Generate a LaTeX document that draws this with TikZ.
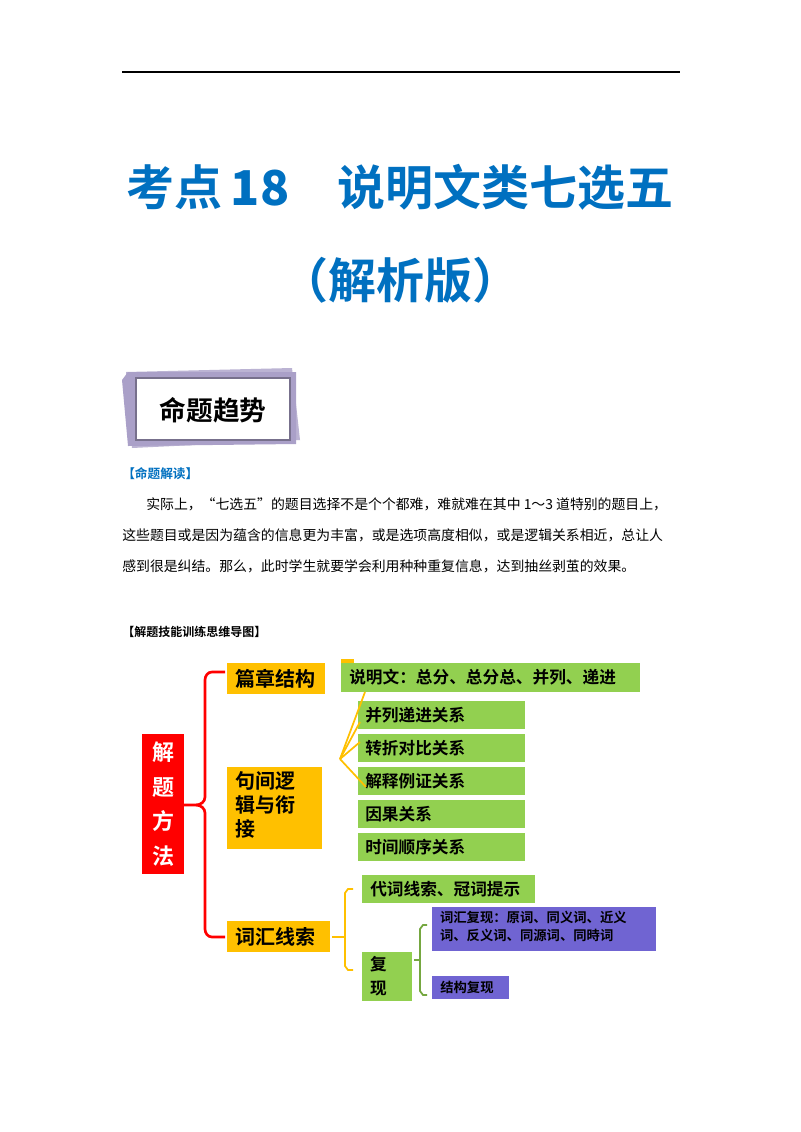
\documentclass[tikz,border=0pt]{standalone}
\usepackage{fontspec}
\setmainfont{Liberation Serif}
\newfontfamily\cjk{Noto Sans CJK SC}
\newfontfamily\cjkb{Noto Sans CJK SC Bold}
\definecolor{tblue}{RGB}{0,112,192}
\definecolor{gbox}{RGB}{146,208,80}
\definecolor{ybox}{RGB}{255,192,0}
\definecolor{pbox}{RGB}{112,100,210}
\definecolor{lav}{RGB}{170,160,200}
\begin{document}
\begin{tikzpicture}[x=0.75pt,y=-0.75pt,
  bx/.style={anchor=north west,inner sep=0pt,outer sep=0pt},
  tx/.style={anchor=west,inner sep=0pt},
  ylw/.style={fill=ybox},grn/.style={fill=gbox},pur/.style={fill=pbox}]
\useasboundingbox (0,0) rectangle (800,1132);
\fill[white] (0,0) rectangle (800,1132);
\draw[line width=0.9pt] (122,72) -- (680,72);
\node[tblue,font=\fontsize{36}{36}\selectfont] (t1) at (400,187) {\cjkb 考点\,\textbf{18}\quad 说明文类七选五};
\node[tblue,font=\fontsize{36}{36}\selectfont] (t2) at (400,280) {\cjkb （解析版）};
% banner
\fill[lav!80] (126,372) -- (292,368) -- (300,440) -- (132,448) -- cycle;
\fill[lav] (122,380) -- (128,372) -- (296,372) -- (296,444) -- (128,446) -- cycle;
\draw[lav!70!black,fill=white,line width=1pt] (136,378) rectangle (290,440);
\node[font=\fontsize{20}{20}\selectfont] (bn) at (213,410) {\cjkb 命题趋势};
\node[tx,tblue,font=\fontsize{9.5}{10}\selectfont] (h1) at (122,474) {\cjkb 【命题解读】};
\node[tx,font=\fontsize{10.4}{12}\selectfont] (p1) at (146,504) {\cjk 实际上，“七选五”的题目选择不是个个都难，难就难在其中 1～3 道特别的题目上，};
\node[tx,font=\fontsize{10.4}{12}\selectfont] (p2) at (122,535) {\cjk 这些题目或是因为蕴含的信息更为丰富，或是选项高度相似，或是逻辑关系相近，总让人};
\node[tx,font=\fontsize{10.4}{12}\selectfont] (p3) at (122,566) {\cjk 感到很是纠结。那么，此时学生就要学会利用种种重复信息，达到抽丝剥茧的效果。};
\node[tx,font=\fontsize{9}{10}\selectfont] (h2) at (122,632) {\cjkb 【解题技能训练思维导图】};
% mind map
\fill[red] (142,734) rectangle (184,874);
\node[white,align=center,font=\cjkb\fontsize{16.5}{26}\selectfont] (root) at (163,804) {解\\题\\方\\法};
\coordinate (rootR) at (184,805);
\fill[ylw] (227,663) rectangle (325,694); \node[tx,font=\fontsize{15}{15}\selectfont] (a1) at (235,678.5) {\cjkb 篇章结构};
\fill[ylw] (227,767) rectangle (322,849); \node[bx,align=left,font=\cjkb\fontsize{15}{18}\selectfont] (a2) at (235,771) {句间逻\\辑与衔\\接};
\fill[ylw] (227,921) rectangle (330,952); \node[tx,font=\fontsize{15}{15}\selectfont] (a3) at (235,936.5) {\cjkb 词汇线索};
\fill[ybox] (341,659) rectangle (354,664);
\fill[grn] (341,663) rectangle (640,692); \node[tx,font=\fontsize{12.5}{13}\selectfont] (b0) at (349,677.5) {\cjkb 说明文：总分、总分总、并列、递进};
\foreach \t/\y [count=\i] in {并列递进关系/701,转折对比关系/734,解释例证关系/767,因果关系/800,时间顺序关系/833}{
  \fill[grn] (358,\y) rectangle (525,\y+28);
  \node[tx,font=\fontsize{12.5}{13}\selectfont] (b\i) at (365,\y+14) {\cjkb \t};}
\fill[grn] (362,875) rectangle (535,903); \node[tx,font=\fontsize{12.5}{13}\selectfont] (c1) at (370,889) {\cjkb 代词线索、冠词提示};
\fill[grn] (362,952) rectangle (412,1001); \node[bx,align=left,font=\cjkb\fontsize{12.5}{18}\selectfont] (c2) at (370,956) {复\\现};
\fill[pur] (432,907) rectangle (656,951); \node[bx,align=left,font=\cjkb\fontsize{10}{13.5}\selectfont] (d1) at (440,911) {词汇复现：原词、同义词、近义\\词、反义词、同源词、同時词};
\fill[pur] (432,976) rectangle (509,999); \node[tx,font=\fontsize{10}{10}\selectfont] (d2) at (440,987.5) {\cjkb 结构复现};
% red brace
\draw[red,line width=2pt] (225,672) -- (212,672) to[out=180,in=90] (205,680) -- (205,797) to[out=-90,in=0] (196,805) -- (rootR);
\draw[red,line width=2pt] (196,805) to[out=0,in=90] (205,813) -- (205,929) to[out=-90,in=180] (212,937) -- (225,937);
% yellow fan
\coordinate (fan) at (340,759);
\foreach \p in {(365,692),(360,722),(360,742),(366,787)} \draw[ybox,line width=1.3pt] (fan) -- \p;
% yellow bracket
\draw[ybox,line width=1.3pt] (353,889) -- (348,889) -- (345,893) -- (345,966) -- (348,970) -- (353,970);
\draw[ybox,line width=1.3pt] (332,937) -- (345,937);
% green bracket
\draw[gbox!80!black,line width=1.3pt] (427,925) -- (423,925) -- (420,929) -- (420,991) -- (423,995) -- (427,995);
\draw[gbox!80!black,line width=1.3pt] (414,960) -- (420,960);
\end{tikzpicture}
\end{document}
